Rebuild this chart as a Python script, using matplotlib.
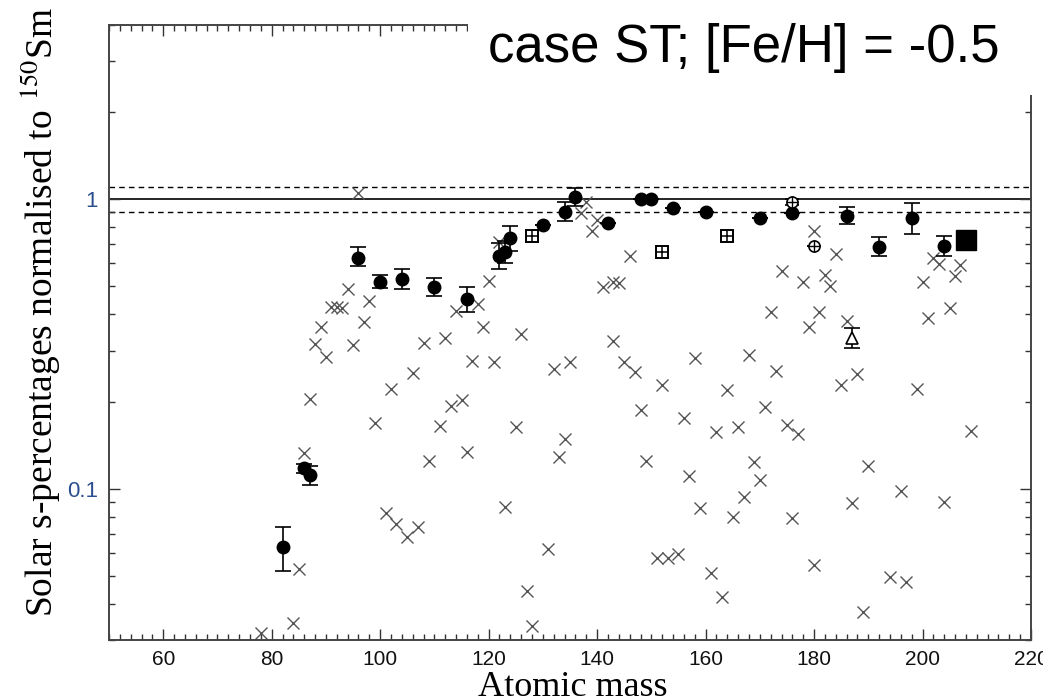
import numpy as np
import matplotlib
matplotlib.use('Agg')
import matplotlib.pyplot as plt
from matplotlib.ticker import MultipleLocator, LogLocator, NullFormatter
from matplotlib.patches import Rectangle

plt.rcParams['mathtext.fontset'] = 'stix'

# ---------------- data ----------------
# s-only isotopes (filled circles with error bars)
s_mass = [82, 86, 87, 96, 100, 104, 110, 116, 122, 123, 124, 130, 134, 136,
          142, 148, 150, 154, 160, 170, 176, 186, 192, 198, 204]
s_val = [0.063, 0.1176, 0.1115, 0.625, 0.518, 0.532, 0.499, 0.451, 0.637, 0.659,
         0.733, 0.815, 0.906, 1.021, 0.830, 1.002, 1.0, 0.931, 0.902, 0.860,
         0.899, 0.878, 0.686, 0.860, 0.691]
s_lo = [0.052, 0.113, 0.103, 0.589, 0.493, 0.491, 0.463, 0.407, 0.575, 0.600,
        0.664, 0.815, 0.841, 0.948, 0.830, 1.002, 1.0, 0.931, 0.902, 0.860,
        0.899, 0.820, 0.638, 0.757, 0.638]
s_hi = [0.074, 0.122, 0.120, 0.685, 0.546, 0.574, 0.536, 0.496, 0.705, 0.720,
        0.809, 0.815, 0.981, 1.092, 0.830, 1.002, 1.0, 0.931, 0.902, 0.860,
        0.899, 0.943, 0.739, 0.971, 0.747]

# s-only with p contribution (open squares with plus)
sq_mass = [128, 152, 164]
sq_val = [0.748, 0.659, 0.748]

# open circles with plus
oc_mass = [176, 180]
oc_val = [0.976, 0.690]
oc_lo = [0.955, 0.690]
oc_hi = [1.000, 0.690]

# triangle
tri_mass = [187]
tri_val = [0.332]
tri_lo = [0.307]
tri_hi = [0.358]

# 208Pb (big filled square)
pb_mass = [208]
pb_val = [0.723]

# other isotopes (crosses)
x_mass = [78, 84, 85, 86, 87, 88, 89, 90, 91, 92, 93, 94, 95, 96, 97, 98, 99,
          101, 102, 103, 105, 106, 107, 108, 109, 111, 112, 113, 114, 115, 116,
          117, 118, 119, 120, 121, 122, 123, 125, 126, 127, 128, 131, 132, 133,
          134, 135, 137, 138, 139, 140, 141, 143, 144, 143, 145, 146, 147, 148,
          149, 151, 152, 153, 155, 156, 157, 158, 159, 161, 162, 163, 164, 165,
          166, 167, 168, 169, 170, 171, 172, 173, 174, 175, 176, 177, 178, 179,
          180, 180, 181, 182, 183, 184, 185, 186, 187, 188, 189, 190, 194, 196,
          197, 199, 200, 201, 202, 203, 204, 205, 206, 207, 209]
x_val = [0.0316, 0.0343, 0.0528, 0.133, 0.204, 0.316, 0.361, 0.284, 0.425, 0.425,
         0.42, 0.489, 0.314, 1.054, 0.376, 0.446, 0.168,
         0.0826, 0.221, 0.0755, 0.0679, 0.2505, 0.0736, 0.3195, 0.125, 0.1647,
         0.331, 0.193, 0.412, 0.2025, 0.134,
         0.277, 0.4346, 0.361, 0.522, 0.2734, 0.714, 0.0862, 0.1637, 0.3416,
         0.0444, 0.0336, 0.0619, 0.2586, 0.129,
         0.149, 0.275, 0.895, 0.981, 0.779, 0.848, 0.496, 0.519, 0.515, 0.3246,
         0.275, 0.637, 0.252, 0.187,
         0.125, 0.0575, 0.228, 0.0575, 0.0595, 0.175, 0.1106, 0.2837, 0.0856,
         0.051, 0.157, 0.0423, 0.2194, 0.0797,
         0.163, 0.0938, 0.2897, 0.124, 0.107, 0.192, 0.409, 0.255, 0.566, 0.166,
         0.079, 0.155, 0.517, 0.361,
         0.777, 0.0545, 0.407, 0.548, 0.502, 0.646, 0.229, 0.380, 0.089, 0.249,
         0.0376, 0.120, 0.0497, 0.0982,
         0.0477, 0.221, 0.519, 0.388, 0.625, 0.598, 0.0902, 0.420, 0.543, 0.593,
         0.1586]

ref_line = 1.0
band = [0.9, 1.1]

x_ticks = [60, 80, 100, 120, 140, 160, 180, 200, 220]
y_ticks = [0.1, 1]
y_ticklabels = ['0.1', '1']

title = 'case ST; [Fe/H] = -0.5'
xlabel = 'Atomic mass'
ylabel = 'Solar s-percentages normalised to $^{150}$Sm'

# ---------------- figure ----------------
W, H = 1043, 700
fig = plt.figure(figsize=(W / 100, H / 100), dpi=100)
ax = fig.add_axes([109 / W, 60 / H, (1031 - 109) / W, (640 - 25) / H])

ax.set_yscale('log')
ax.set_xlim(50, 220)
ax.set_ylim(0.03, 4.0)

ax.axhline(ref_line, color='k', lw=1.2, zorder=1)
for b in band:
    ax.axhline(b, color='k', lw=1.0, ls=(0, (4, 3)), zorder=1)

ax.plot(x_mass, x_val, ls='none', marker='x', ms=8.6, mew=1.0,
        color='#555555', zorder=2)

s_mass_a = np.array(s_mass)
s_val_a = np.array(s_val)
yerr = np.vstack([s_val_a - np.array(s_lo), np.array(s_hi) - s_val_a])
ax.errorbar(s_mass_a, s_val_a, yerr=yerr, fmt='o', ms=9, color='k',
            ecolor='k', elinewidth=1.2, capsize=6, capthick=1.2, zorder=4)

ax.plot(sq_mass, sq_val, ls='none', marker='s', ms=8.5, mfc='white',
        mec='k', mew=1.4, zorder=4)
ax.plot(sq_mass, sq_val, ls='none', marker='+', ms=8.5, mec='k', mew=1.1,
        zorder=5)

oc_val_a = np.array(oc_val)
ax.errorbar(oc_mass, oc_val_a,
            yerr=np.vstack([oc_val_a - np.array(oc_lo), np.array(oc_hi) - oc_val_a]),
            fmt='o', ms=8, mfc='white', mec='k', mew=1.2, ecolor='k',
            elinewidth=1.0, capsize=5, zorder=4)
ax.plot(oc_mass, oc_val, ls='none', marker='+', ms=8, mec='k', mew=1.0,
        zorder=5)

tri_val_a = np.array(tri_val)
ax.errorbar(tri_mass, tri_val_a,
            yerr=np.vstack([tri_val_a - np.array(tri_lo), np.array(tri_hi) - tri_val_a]),
            fmt='^', ms=9, mfc='white', mec='k', mew=1.2, ecolor='k',
            elinewidth=1.2, capsize=6, capthick=1.2, zorder=4)

ax.plot(pb_mass, pb_val, ls='none', marker='s', ms=14.5, color='k', zorder=4)

# ticks
ax.set_xticks(x_ticks)
ax.xaxis.set_minor_locator(MultipleLocator(2))
ax.set_yticks(y_ticks)
ax.set_yticklabels(y_ticklabels)
ax.yaxis.set_minor_locator(LogLocator(base=10, subs=np.arange(2, 10)))
ax.yaxis.set_minor_formatter(NullFormatter())
ax.tick_params(which='both', direction='in', top=True, right=True,
               color='#333333', width=1.0)
ax.tick_params(which='major', length=8)
ax.tick_params(which='minor', length=4.5)
ax.tick_params(axis='x', which='major', pad=7, labelsize=15, labelcolor='#111111')
ax.tick_params(axis='y', which='major', pad=8, labelsize=16, labelcolor='#2b4f8e')
for lab in ax.get_xticklabels() + ax.get_yticklabels():
    lab.set_family('Liberation Sans')
for sp in ax.spines.values():
    sp.set_color('#444444')
    sp.set_linewidth(1.4)

# labels
fig.text(573 / W, 1 - 687 / H, xlabel, ha='center', va='center',
         fontsize=26, family='Liberation Serif')
fig.text(40 / W, 1 - 312 / H, ylabel, ha='center', va='center',
         rotation=90, fontsize=27, family='Liberation Serif')

# white box behind the overlaid title
fig.add_artist(Rectangle((468 / W, 1 - 95 / H), 1 - 468 / W, 95 / H,
                         transform=fig.transFigure, facecolor='white',
                         edgecolor='none', zorder=10))
fig.text(488 / W, 1 - 48 / H, title, ha='left', va='center', fontsize=38,
         family='Liberation Sans', color='black', zorder=11)

fig.savefig('out.png', dpi=100)
